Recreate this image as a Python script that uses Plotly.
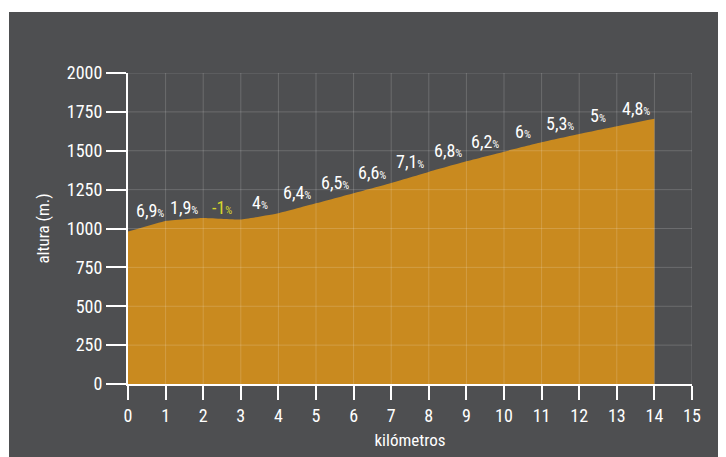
import plotly.graph_objects as go

km = [0, 1, 2, 3, 4, 5, 6, 7, 8, 9, 10, 11, 12, 13, 14]
altura = [980, 1049, 1068, 1058, 1098, 1162, 1227, 1293, 1364, 1432, 1494, 1554, 1607, 1657, 1705]
pendiente_num = ["6,9", "1,9", "-1", "4", "6,4", "6,5", "6,6", "7,1", "6,8", "6,2", "6", "5,3", "5", "4,8"]
x_ticks = list(range(0, 16))
y_ticks = [0, 250, 500, 750, 1000, 1250, 1500, 1750, 2000]

FONT = "Roboto Condensed, Liberation Sans, sans-serif"
BG = "#4e4f51"
FILL = "#c98a1f"

L, T, PW, PH = 120, 65, 564, 311
W, H = 726, 457

def px_x(px):
    return (px - L) / PW

def px_y(py):
    return (T + PH - py) / PH

fig = go.Figure()
fig.add_trace(go.Scatter(
    x=km, y=altura, mode="lines", line=dict(color=FILL, width=0, shape="spline", smoothing=0.3),
    fill="tozeroy", fillcolor=FILL, hoverinfo="skip", showlegend=False))

shapes = [dict(type="rect", xref="paper", yref="paper", x0=px_x(1), x1=px_x(W + 10),
               y0=px_y(H + 10), y1=px_y(4), fillcolor=BG, line=dict(width=0), layer="below")]
grid = "rgba(255,255,255,0.17)"
for xv in x_ticks[1:]:
    shapes.append(dict(type="line", x0=xv, x1=xv, y0=y_ticks[0], y1=y_ticks[-1], line=dict(color=grid, width=1), layer="above"))
for yv in y_ticks[1:]:
    shapes.append(dict(type="line", x0=x_ticks[0], x1=x_ticks[-1], y0=yv, y1=yv, line=dict(color=grid, width=1), layer="above"))

annotations = []
for i, p in enumerate(pendiente_num):
    color = "#d6d62c" if p.startswith("-") else "white"
    top = max(altura[i], altura[i + 1])
    annotations.append(dict(
        x=(km[i] + km[i + 1]) / 2 + (0.08 if i == 0 else 0), y=top, xref="x", yref="y",
        text=f"{p}<span style='font-size:11px'>%</span>", showarrow=False,
        yanchor="bottom", yshift=-2, font=dict(family=FONT, size=18, color=color)))

fig.update_layout(
    width=W, height=H,
    paper_bgcolor="white", plot_bgcolor=BG,
    margin=dict(l=L, r=W - L - PW, t=T, b=H - T - PH),
    font=dict(family=FONT, color="white"),
    shapes=shapes, annotations=annotations,
    xaxis=dict(range=[0, 15], tickvals=x_ticks, showgrid=False, zeroline=False,
               showline=True, linecolor="white", linewidth=2,
               ticks="outside", ticklen=14, tickwidth=2, tickcolor="white",
               tickfont=dict(family=FONT, size=18, color="white"),
               title=dict(text="kilómetros", font=dict(family=FONT, size=17, color="white"), standoff=10)),
    yaxis=dict(range=[0, 2000], tickvals=y_ticks, showgrid=False, zeroline=False,
               showline=True, linecolor="white", linewidth=2,
               ticks="outside", ticklen=20, tickwidth=2, tickcolor="white",
               tickfont=dict(family=FONT, size=18, color="white"),
               title=dict(text="altura (m.)", font=dict(family=FONT, size=17, color="white"), standoff=13)),
)
fig.write_html("out.html")
